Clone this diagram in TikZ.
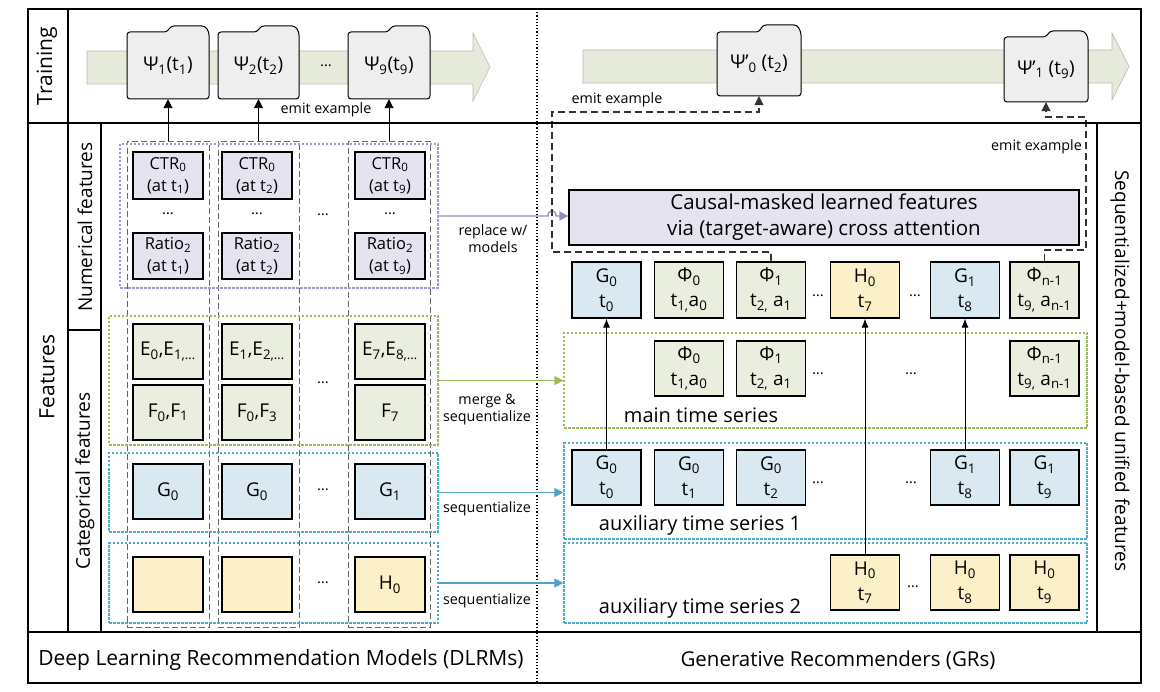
\documentclass[tikz,border=0pt]{standalone}
\usepackage{fontspec}
\setmainfont{Open Sans}
\usetikzlibrary{arrows.meta}
\newcommand\Sbs[1]{\textsubscript{#1}}
\definecolor{bandc}{RGB}{230,234,218}
\definecolor{folderc}{RGB}{238,238,238}
\definecolor{lav}{RGB}{230,227,240}
\definecolor{oli}{RGB}{234,238,222}
\definecolor{blu}{RGB}{218,233,241}
\definecolor{yel}{RGB}{252,240,200}
\definecolor{purd}{RGB}{165,150,205}
\definecolor{grnd}{RGB}{155,187,89}
\definecolor{blud}{RGB}{75,172,198}
\definecolor{pura}{RGB}{150,135,190}
\definecolor{blua}{RGB}{80,160,200}
\tikzset{
  every node/.style={inner sep=0pt, align=center},
  frm/.style={line width=1.5pt},
  thk/.style={line width=2.2pt},
  fld/.style={fill=folderc, draw=black, line width=1pt, rounded corners=3pt},
  band/.style={fill=bandc, draw=gray!55, line width=0.6pt},
  cell/.style={draw=black, line width=1.3pt, minimum width=70pt, font=\fontsize{16.5}{22}\selectfont},
  rcell/.style={draw=black, line width=1.3pt, minimum width=69pt, font=\fontsize{19}{25}\selectfont},
  coldash/.style={draw=gray!80!black, line width=0.9pt, dash pattern=on 6pt off 3pt},
  dotp/.style={draw=purd, line width=1.3pt, dash pattern=on 2.5pt off 1.5pt},
  dotg/.style={draw=grnd, line width=1.3pt, dash pattern=on 2.5pt off 1.5pt},
  dotb/.style={draw=blud, line width=1.3pt, dash pattern=on 2.5pt off 1.5pt},
  lbl/.style={font=\fontsize{14.3}{17}\selectfont},
  big/.style={font=\fontsize{21}{26}\selectfont},
  mid/.style={font=\fontsize{20}{24}\selectfont},
  dts/.style={font=\fontsize{15}{18}\selectfont},
  emit/.style={draw=black, line width=0.9pt, -{Triangle[length=9pt,width=9pt]}},
  emitd/.style={draw=black!80, line width=1.1pt, dash pattern=on 7pt off 4pt, -{Triangle[length=9pt,width=9pt]}},
  up/.style={draw=black, line width=0.9pt, -{Latex[length=9pt,width=7pt]}},
}
\newcommand\folder[7]{%
  \draw[fld] (#2,#5) -- (#2,#4) -- ({#3-42},#4) -- ({#3-38},#6) -- ({#3-4},#6) -- (#3,#4) -- (#3,#5) -- cycle;
  \node[minimum width={#3-#2}, minimum height={#5-#4}, font=\fontsize{19}{22}\selectfont] (#1) at ({(#2+#3)/2},{(#4+#5)/2}) {#7};}
\begin{document}
\begin{tikzpicture}[x=1pt,y=-1pt]
\useasboundingbox (0,0) rectangle (1160,692);
% ---------- frame ----------
\draw[frm] (28,9) rectangle (1141,683);
\draw[frm] (68,9) -- (68,632);
\draw[frm] (101,123) -- (101,632);
\draw[frm] (68,330) -- (101,330);
\draw[frm] (1097,123) -- (1097,632);
\draw[frm] (28,632) -- (1141,632);
\draw[line width=1.2pt, dotted] (537,9) -- (537,683);
% ---------- training bands ----------
\draw[band] (87,51) -- (473,51) -- (473,33) -- (490,67) -- (473,101) -- (473,84) -- (87,84) -- cycle;
\draw[band] (583,50) -- (1112,50) -- (1112,33) -- (1129,66.5) -- (1112,100) -- (1112,83) -- (583,83) -- cycle;
\folder{psi1}{127}{209}{32}{99}{26}{Ψ\Sbs{1}(t\Sbs{1})}
\folder{psi2}{218}{299}{32}{99}{26}{Ψ\Sbs{2}(t\Sbs{2})}
\folder{psi9}{348}{430}{32}{99}{26}{Ψ\Sbs{9}(t\Sbs{9})}
\node[dts] (tdots) at (326,66) {…};
\folder{psiA}{717}{801}{32}{96}{25}{Ψ’\Sbs{0} (t\Sbs{2})}
\folder{psiB}{1004}{1088}{37}{102}{31}{Ψ’\Sbs{1} (t\Sbs{9})}
% ---------- bottom labels ----------
\node[big] (dlrm) at (281,660) {Deep Learning Recommendation Models (DLRMs)};
\node[font=\fontsize{20.5}{26}\selectfont] (gr) at (838,660) {Generative Recommenders (GRs)};
% ---------- side labels ----------
\node[big, rotate=90] (ltrain) at (47,66) {Training};
\node[big, rotate=90] (lfeat) at (47,377) {Features};
\node[font=\fontsize{19}{22}\selectfont, rotate=90] (lnum) at (85,227) {Numerical features};
\node[font=\fontsize{19}{22}\selectfont, rotate=90] (lcat) at (85,481) {Categorical features};
\node[font=\fontsize{19}{22}\selectfont, rotate=-90] (lseq) at (1120,371) {Sequentialized+model-based unified features};
% ---------- left: column dashed rects ----------
\node[coldash, minimum width=82pt, minimum height=486pt] (col1) at (168,384) {};
\node[coldash, minimum width=81pt, minimum height=486pt] (col2) at (258.5,384) {};
\node[coldash, minimum width=82pt, minimum height=486pt] (col3) at (389,384) {};
% group dotted boxes
\node[dotp, minimum width=318pt, minimum height=144pt] (numg) at (279,216) {};
\node[dotg, minimum width=329pt, minimum height=129pt] (catE) at (273.5,380.5) {};
\node[dotb, minimum width=329pt, minimum height=79pt] (catG) at (273.5,492.5) {};
\node[dotb, minimum width=329pt, minimum height=80pt] (catH) at (273.5,583) {};
% numerical cells
\node[cell, fill=lav, minimum height=47pt] (c11) at (168,175.5) {CTR\Sbs{0}\\(at t\Sbs{1})};
\node[cell, fill=lav, minimum height=47pt] (c21) at (257,175.5) {CTR\Sbs{0}\\(at t\Sbs{2})};
\node[cell, fill=lav, minimum height=47pt] (c91) at (390,175.5) {CTR\Sbs{0}\\(at t\Sbs{9})};
\node[cell, fill=lav, minimum height=46pt] (c12) at (168,256) {Ratio\Sbs{2}\\(at t\Sbs{1})};
\node[cell, fill=lav, minimum height=46pt] (c22) at (257,256) {Ratio\Sbs{2}\\(at t\Sbs{2})};
\node[cell, fill=lav, minimum height=46pt] (c92) at (390,256) {Ratio\Sbs{2}\\(at t\Sbs{9})};
\node[dts] (nd1) at (168,214) {…};
\node[dts] (nd2) at (257,214) {…};
\node[dts] (nd3) at (323,215) {…};
\node[dts] (nd4) at (390,214) {…};
% categorical cells
\node[rcell, minimum width=70pt, fill=oli, minimum height=55pt] (e1) at (168,351.5) {E\Sbs{0},E\Sbs{1,…}};
\node[rcell, minimum width=70pt, fill=oli, minimum height=55pt] (e2) at (257,351.5) {E\Sbs{1},E\Sbs{2,…}};
\node[rcell, minimum width=70pt, fill=oli, minimum height=55pt] (e9) at (390,351.5) {E\Sbs{7},E\Sbs{8,…}};
\node[rcell, minimum width=70pt, fill=oli, minimum height=55pt] (f1) at (168,412.5) {F\Sbs{0},F\Sbs{1}};
\node[rcell, minimum width=70pt, fill=oli, minimum height=55pt] (f2) at (257,412.5) {F\Sbs{0},F\Sbs{3}};
\node[rcell, minimum width=70pt, fill=oli, minimum height=55pt] (f9) at (390,412.5) {F\Sbs{7}};
\node[dts] (ed) at (323,383) {…};
\node[rcell, minimum width=70pt, fill=blu, minimum height=55pt] (g1) at (168,491.5) {G\Sbs{0}};
\node[rcell, minimum width=70pt, fill=blu, minimum height=55pt] (g2) at (257,491.5) {G\Sbs{0}};
\node[rcell, minimum width=70pt, fill=blu, minimum height=55pt] (g9) at (390,491.5) {G\Sbs{1}};
\node[dts] (gd) at (323,490) {…};
\node[rcell, minimum width=70pt, fill=yel, minimum height=55pt] (h1) at (168,584.5) {};
\node[rcell, minimum width=70pt, fill=yel, minimum height=55pt] (h2) at (257,584.5) {};
\node[rcell, minimum width=70pt, fill=yel, minimum height=55pt] (h9) at (390,584.5) {H\Sbs{0}};
\node[dts] (hd) at (323,583) {…};
% emit arrows (left)
\draw[emit] (col1.north) -- (psi1.south);
\draw[emit] (col2.north) -- (psi2.south);
\draw[emit] (col3.north) -- (psi9.south);
\node[lbl] (emitL) at (326,110) {emit example};
% ---------- right side ----------
\node[draw=black, line width=1.3pt, fill=lav, minimum width=510pt, minimum height=55pt, font=\fontsize{20.5}{26}\selectfont] (causal) at (824,217.5) {Causal-masked learned features\\via (target-aware) cross attention};
% group boxes
\node[dotg, minimum width=523pt, minimum height=95pt] (mainS) at (825.5,380.5) {};
\node[dotb, minimum width=523pt, minimum height=96pt] (aux1) at (825.5,491) {};
\node[dotb, minimum width=523pt, minimum height=80pt] (aux2) at (825.5,583) {};
% top row
\node[rcell, fill=blu, minimum height=56pt] (tG0) at (606.5,290) {G\Sbs{0}\\t\Sbs{0}};
\node[rcell, fill=oli, minimum height=56pt] (tP0) at (689,290) {Φ\Sbs{0}\\t\Sbs{1,}a\Sbs{0}};
\node[rcell, fill=oli, minimum height=56pt] (tP1) at (771,290) {Φ\Sbs{1}\\t\Sbs{2,} a\Sbs{1}};
\node[dts] (td1) at (818,296) {…};
\node[rcell, fill=yel, minimum height=56pt] (tH0) at (865,290) {H\Sbs{0}\\t\Sbs{7}};
\node[dts] (td2) at (915,296) {…};
\node[rcell, fill=blu, minimum height=56pt] (tG1) at (965,290) {G\Sbs{1}\\t\Sbs{8}};
\node[rcell, fill=oli, minimum height=56pt] (tPn) at (1044.5,290) {Φ\Sbs{n-1}\\t\Sbs{9,} a\Sbs{n-1}};
% main series
\node[rcell, fill=oli, minimum height=55pt] (mP0) at (689,368.5) {Φ\Sbs{0}\\t\Sbs{1,}a\Sbs{0}};
\node[rcell, fill=oli, minimum height=55pt] (mP1) at (771,368.5) {Φ\Sbs{1}\\t\Sbs{2,} a\Sbs{1}};
\node[dts] (md1) at (818,374) {…};
\node[dts] (md2) at (911,374) {…};
\node[rcell, fill=oli, minimum height=55pt] (mPn) at (1044.5,368.5) {Φ\Sbs{n-1}\\t\Sbs{9,} a\Sbs{n-1}};
\node[mid] (mainL) at (701,415) {main time series};
% aux 1
\node[rcell, fill=blu, minimum height=55pt] (aG0) at (606.5,477.5) {G\Sbs{0}\\t\Sbs{0}};
\node[rcell, fill=blu, minimum height=55pt] (aG1) at (689,477.5) {G\Sbs{0}\\t\Sbs{1}};
\node[rcell, fill=blu, minimum height=55pt] (aG2) at (771,477.5) {G\Sbs{0}\\t\Sbs{2}};
\node[dts] (ad1) at (818,483) {…};
\node[dts] (ad2) at (911,483) {…};
\node[rcell, fill=blu, minimum height=55pt] (aG8) at (965,477.5) {G\Sbs{1}\\t\Sbs{8}};
\node[rcell, fill=blu, minimum height=55pt] (aG9) at (1044.5,477.5) {G\Sbs{1}\\t\Sbs{9}};
\node[mid] (aux1L) at (700,525) {auxiliary time series 1};
% aux 2
\node[rcell, fill=yel, minimum height=55pt] (bH7) at (865,582.5) {H\Sbs{0}\\t\Sbs{7}};
\node[dts] (bd1) at (913,587) {…};
\node[rcell, fill=yel, minimum height=55pt] (bH8) at (965,582.5) {H\Sbs{0}\\t\Sbs{8}};
\node[rcell, fill=yel, minimum height=55pt] (bH9) at (1044.5,582.5) {H\Sbs{0}\\t\Sbs{9}};
\node[mid] (aux2L) at (700,608) {auxiliary time series 2};
% vertical arrows
\draw[up] (aG0.north) -- (tG0.south);
\draw[up] (bH7.north) -- (tH0.south);
\draw[up] (aG8.north) -- (tG1.south);
% ---------- left-to-right arrows ----------
\coordinate (hp1) at (548,216);
\coordinate (hp2) at (556,216);
\draw[draw=pura, line width=1.3pt, -{Triangle[length=9pt,width=9pt]}] (numg.east) -- (hp1) .. controls +(0,-7) and +(0,-7) .. (hp2) -- (causal.west |- hp2);
\node[lbl] (repl) at (493,239) {replace w/\\models};
\draw[draw=grnd, line width=1.3pt, -{Triangle[length=9pt,width=9pt]}] (catE.east) -- (mainS.west);
\node[lbl] (mrg) at (487,410) {merge \&\\sequentialize};
\draw[draw=blua, line width=1.3pt, -{Triangle[length=9pt,width=9pt]}] (catG.east) -- (catG.east -| aux1.west);
\node[lbl] (sq1) at (487,509) {sequentialize};
\draw[draw=blua, line width=1.3pt, -{Triangle[length=9pt,width=9pt]}] (catH.east) -- (aux2.west);
\node[lbl] (sq2) at (487,601) {sequentialize};
% ---------- dashed emit paths (right) ----------
\coordinate (eA1) at (552,252);
\coordinate (eA2) at (552,112);
\draw[emitd] (tP1.north) |- (eA1) -- (eA2) -| (psiA.south);
\node[lbl] (emitR1) at (617,100) {emit example};
\coordinate (eB1) at (1086,250);
\coordinate (eB2) at (1086,117);
\draw[emitd] (tPn.north) |- (eB1) -- (eB2) -| (psiB.south);
\node[lbl, anchor=east] (emitR2) at (1082,147) {emit example};
% row line on top
\draw[thk] (28,123) -- (1141,123);
\end{tikzpicture}
\end{document}
